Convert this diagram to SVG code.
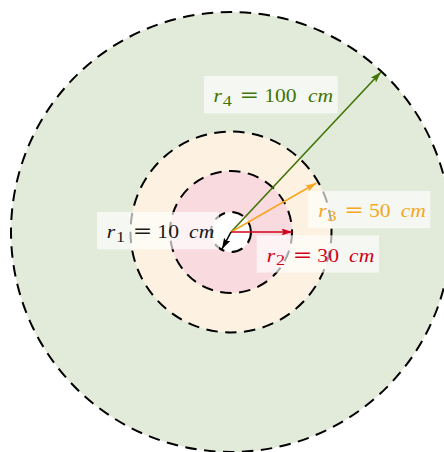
<svg xmlns="http://www.w3.org/2000/svg" width="444" height="452" viewBox="0 0 444 452">
<style>
.ring{stroke:#000;stroke-width:2;stroke-dasharray:11.5 7.5}
.box{fill:#fff;fill-opacity:0.65}
.lbl{font-family:"Liberation Serif","Times New Roman",serif;font-size:18.5px}
.it{font-style:italic}
.sub{font-size:15.5px}
.eq{font-family:"DejaVu Serif",serif;font-size:20px}
.arr{fill:none;stroke-width:1.6}
</style>
<defs>
<marker id="mG" viewBox="0 0 11 7" refX="11" refY="3.5" markerWidth="11" markerHeight="7" markerUnits="userSpaceOnUse" orient="auto"><path d="M0,0 L11,3.5 L0,7 L2,3.5 z" fill="#417505"/></marker>
<marker id="mO" viewBox="0 0 11 7" refX="11" refY="3.5" markerWidth="11" markerHeight="7" markerUnits="userSpaceOnUse" orient="auto"><path d="M0,0 L11,3.5 L0,7 L2,3.5 z" fill="#f5a623"/></marker>
<marker id="mR" viewBox="0 0 11 7" refX="11" refY="3.5" markerWidth="11" markerHeight="7" markerUnits="userSpaceOnUse" orient="auto"><path d="M0,0 L11,3.5 L0,7 L2,3.5 z" fill="#d0021b"/></marker>
<marker id="mK" viewBox="0 0 11 7" refX="11" refY="3.5" markerWidth="11" markerHeight="7" markerUnits="userSpaceOnUse" orient="auto"><path d="M0,0 L11,3.5 L0,7 L2,3.5 z" fill="#000"/></marker>
</defs>
<rect width="444" height="452" fill="#fff"/>
<g id="circle4"><circle class="ring" cx="231" cy="232" r="220" fill="#e2ebda"/></g>
<g id="circle3"><circle class="ring" cx="231" cy="232" r="100.5" fill="#fdf2e1"/></g>
<g id="circle2"><circle class="ring" cx="231" cy="232" r="61" fill="#f8dadf"/></g>
<g id="circle1"><circle class="ring" cx="231" cy="232" r="20" fill="#ffffff"/></g>
<g id="connectors">
<line class="arr" x1="231" y1="232" x2="381" y2="72" stroke="#417505" marker-end="url(#mG)"/>
<line class="arr" x1="231" y1="232" x2="316.5" y2="183" stroke="#f5a623" marker-end="url(#mO)"/>
<line class="arr" x1="231" y1="232" x2="292.5" y2="232" stroke="#d0021b" marker-end="url(#mR)"/>
<line class="arr" x1="231" y1="232" x2="222" y2="249" stroke="#000" marker-end="url(#mK)"/>
</g>
<g id="label4">
<rect class="box" x="204" y="76" width="133.7" height="37.3"/>
<text class="lbl" fill="#417505" transform="translate(213.5,102.3) scale(1.17,1)"><tspan class="it" x="0">r</tspan><tspan class="sub" x="7.9" dy="3.5">4</tspan><tspan class="eq" x="22.2" dy="-3.5">=</tspan><tspan x="43.3">100</tspan><tspan class="it" x="80.7">cm</tspan></text>
</g>
<g id="label3">
<rect class="box" x="308.3" y="191" width="122" height="37.3"/>
<text class="lbl" fill="#f5a623" transform="translate(318.3,217.3) scale(1.17,1)"><tspan class="it" x="0">r</tspan><tspan class="sub" x="7.9" dy="3.5">3</tspan><tspan class="eq" x="22.2" dy="-3.5">=</tspan><tspan x="43.3">50</tspan><tspan class="it" x="70.4">cm</tspan></text>
</g>
<g id="label2">
<rect class="box" x="256.7" y="235.3" width="122.3" height="37.3"/>
<text class="lbl" fill="#d0021b" transform="translate(266.7,261.7) scale(1.17,1)"><tspan class="it" x="0">r</tspan><tspan class="sub" x="7.9" dy="3.5">2</tspan><tspan class="eq" x="22.2" dy="-3.5">=</tspan><tspan x="43.3">30</tspan><tspan class="it" x="70.4">cm</tspan></text>
</g>
<g id="label1">
<rect class="box" x="97" y="212" width="122" height="37.3"/>
<text class="lbl" fill="#1a1a1a" transform="translate(106.7,238.3) scale(1.17,1)"><tspan class="it" x="0">r</tspan><tspan class="sub" x="7.9" dy="3.5">1</tspan><tspan class="eq" x="22.2" dy="-3.5">=</tspan><tspan x="43.3">10</tspan><tspan class="it" x="70.4">cm</tspan></text>
</g>
</svg>
